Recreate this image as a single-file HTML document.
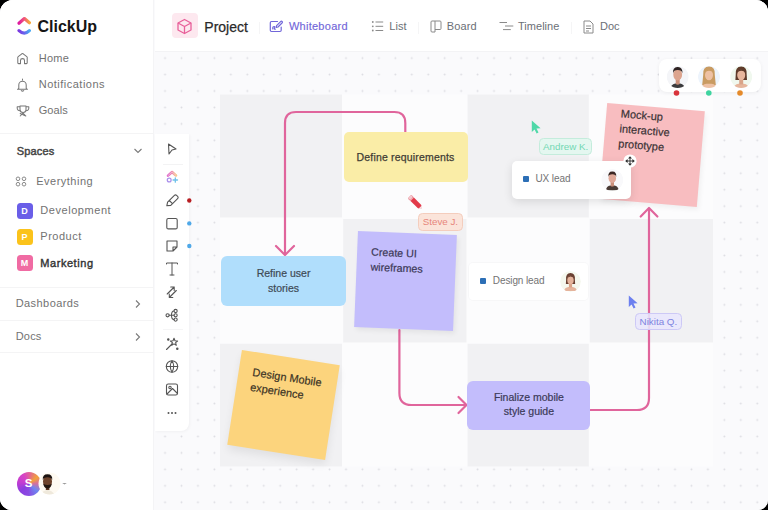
<!DOCTYPE html>
<html><head><meta charset="utf-8">
<style>
*{margin:0;padding:0;box-sizing:border-box}
html,body{width:768px;height:510px;overflow:hidden;background:#000}
body{font-family:"Liberation Sans",sans-serif;position:relative}
#app{position:absolute;left:0;top:0;width:768px;height:510px;border-radius:13px 12px 10px 12px;overflow:hidden;background:#fff}
.a{position:absolute}
.t{position:absolute;white-space:nowrap;line-height:1}
.sb{color:#727272;font-size:11px}
.sep{position:absolute;left:0;width:154px;height:1px;background:#f4f4f5}
.hd{color:#6b6f76;font-size:11px}
.note{position:absolute;color:#3e3e44;font-size:10.5px;line-height:14.5px;text-align:center;-webkit-text-stroke:0.2px}
.stk{position:absolute;color:#3c3a4a;font-size:11px;line-height:15px;-webkit-text-stroke:0.2px}
</style></head><body>
<div id="app">
  <!-- canvas background -->
  <svg class="a" style="left:0;top:0" width="768" height="510">
    <defs>
      <pattern id="dots" patternUnits="userSpaceOnUse" x="156.825" y="49.875" width="16.45" height="16.45">
        <circle cx="8.225" cy="8.225" r="0.95" fill="#dcdce2"/>
      </pattern>
    </defs>
    <rect x="0" y="0" width="768" height="510" fill="#fafafc"/>
    <rect x="0" y="0" width="768" height="510" fill="url(#dots)"/>
    <!-- grid cells -->
    <g>
      <rect x="220" y="94.5" width="493" height="372" fill="#fcfcfd"/>
      <rect x="220" y="94.5" width="122" height="123.0" fill="#f1f1f3"/>
      <rect x="467.6" y="94.5" width="121.2" height="123.0" fill="#f1f1f3"/>
      <rect x="343.2" y="219" width="123.3" height="123.5" fill="#f1f1f3"/>
      <rect x="589.8" y="219" width="123.2" height="123.5" fill="#f1f1f3"/>
      <rect x="220" y="343.8" width="122" height="122.7" fill="#f1f1f3"/>
      <rect x="467.6" y="343.8" width="121.2" height="122.7" fill="#f1f1f3"/>
    </g>
  </svg>

  <!-- sidebar -->
  <div class="a" style="left:0;top:0;width:154px;height:510px;background:#fff;border-right:1px solid #f4f4f6"></div>
  <!-- logo -->
  <svg class="a" style="left:16px;top:16px" width="16" height="20" viewBox="0 0 16 20">
    <defs>
      <linearGradient id="lg1" x1="0" y1="0" x2="1" y2="0"><stop offset="0" stop-color="#de1aa0"/><stop offset="0.5" stop-color="#f0577a"/><stop offset="1" stop-color="#f6a93a"/></linearGradient>
      <linearGradient id="lg2" x1="0" y1="0" x2="1" y2="0"><stop offset="0" stop-color="#7a3ae0"/><stop offset="0.5" stop-color="#6a62ec"/><stop offset="1" stop-color="#4aaaf2"/></linearGradient>
    </defs>
    <path d="M3 7.2 L8.4 2.6 L13.4 6.8" fill="none" stroke="url(#lg1)" stroke-width="3.3" stroke-linecap="round" stroke-linejoin="round"/>
    <path d="M3 14.6 Q8.3 19.6 13.4 14.6" fill="none" stroke="url(#lg2)" stroke-width="3.2" stroke-linecap="round"/>
  </svg>
  <div class="t" style="left:37.5px;top:19px;font-size:16px;font-weight:700;color:#151515">ClickUp</div>

  <!-- home icon -->
  <svg class="a" style="left:16px;top:52px" width="13" height="13" viewBox="0 0 13 13"><path d="M1.8 6 Q1.5 5.3 2.2 4.7 L5.8 1.8 Q6.5 1.3 7.2 1.8 L10.8 4.7 Q11.5 5.3 11.2 6 L11.2 10.8 Q11.2 11.6 10.4 11.6 H8.5 V8.4 Q8.5 6.6 6.5 6.6 Q4.5 6.6 4.5 8.4 V11.6 H2.6 Q1.8 11.6 1.8 10.8 Z" fill="none" stroke="#777" stroke-width="1.05" stroke-linejoin="round"/></svg>
  <div class="t sb" style="left:38.7px;top:52.5px;letter-spacing:0.3px">Home</div>
  <!-- bell -->
  <svg class="a" style="left:16px;top:77.5px" width="13" height="14" viewBox="0 0 13 14"><path d="M6.5 1 V2 M2.8 10.3 V7 A3.7 3.7 0 0 1 10.2 7 V10.3 L11.5 11.3 H1.5 Z M5.3 12.6 Q6.5 13.6 7.7 12.6" fill="none" stroke="#777" stroke-width="1.05" stroke-linejoin="round" stroke-linecap="round"/></svg>
  <div class="t sb" style="left:38.7px;top:79.1px;letter-spacing:0.5px">Notifications</div>
  <!-- trophy -->
  <svg class="a" style="left:15.5px;top:104.5px" width="14" height="12" viewBox="0 0 14 12"><path d="M4 1 H10 V4.5 A3 3 0 0 1 4 4.5 Z M4 1.8 H1.2 V3 A2.5 2.5 0 0 0 4.2 5.6 M10 1.8 H12.8 V3 A2.5 2.5 0 0 1 9.8 5.6 M7 7.5 V8.2 M4.2 11 L7 8.2 L9.8 11 M4.2 8.5 L9.8 11" fill="none" stroke="#777" stroke-width="1.05" stroke-linejoin="round" stroke-linecap="round"/></svg>
  <div class="t sb" style="left:38.7px;top:105.4px;letter-spacing:0.1px">Goals</div>
  <div class="sep" style="top:133px"></div>

  <div class="t" style="left:16.8px;top:145.7px;font-size:11px;color:#444;letter-spacing:0.15px;-webkit-text-stroke:0.45px">Spaces</div>
  <svg class="a" style="left:133px;top:147px" width="10" height="8" viewBox="0 0 10 8"><path d="M1.5 2 L5 5.5 L8.5 2" fill="none" stroke="#7a7a7a" stroke-width="1.1"/></svg>

  <svg class="a" style="left:15px;top:176px" width="12" height="11" viewBox="0 0 12 11"><g fill="none" stroke="#8a8a8a" stroke-width="1"><circle cx="3" cy="2.8" r="1.8"/><circle cx="9" cy="2.8" r="1.8"/><circle cx="3" cy="8.2" r="1.8"/><circle cx="9" cy="8.2" r="1.8"/></g></svg>
  <div class="t sb" style="left:36.2px;top:175.7px;letter-spacing:0.5px">Everything</div>

  <div class="a" style="left:16.5px;top:202.5px;width:16px;height:16px;border-radius:3.5px;background:#6a5ee8;color:#fff;font-size:9px;font-weight:700;text-align:center;line-height:16px">D</div>
  <div class="t sb" style="left:40.3px;top:204.5px;letter-spacing:0.55px">Development</div>
  <div class="a" style="left:16.5px;top:228.7px;width:16px;height:16px;border-radius:3.5px;background:#fbc31b;color:#fff;font-size:9px;font-weight:700;text-align:center;line-height:16px">P</div>
  <div class="t sb" style="left:40.3px;top:230.7px;letter-spacing:0.5px">Product</div>
  <div class="a" style="left:16.5px;top:255px;width:16px;height:16px;border-radius:3.5px;background:#f06ba3;color:#fff;font-size:9px;font-weight:700;text-align:center;line-height:16px">M</div>
  <div class="t" style="left:40.3px;top:258px;font-size:11px;color:#333;letter-spacing:0.55px;-webkit-text-stroke:0.4px">Marketing</div>

  <div class="sep" style="top:287px"></div>
  <div class="t sb" style="left:15.7px;top:298px;letter-spacing:0.43px">Dashboards</div>
  <svg class="a" style="left:133px;top:299px" width="9" height="10" viewBox="0 0 9 10"><path d="M3 1.5 L6.5 5 L3 8.5" fill="none" stroke="#7a7a7a" stroke-width="1.1"/></svg>
  <div class="sep" style="top:320px"></div>
  <div class="t sb" style="left:15.7px;top:330.9px;letter-spacing:0.2px">Docs</div>
  <svg class="a" style="left:133px;top:332px" width="9" height="10" viewBox="0 0 9 10"><path d="M3 1.5 L6.5 5 L3 8.5" fill="none" stroke="#7a7a7a" stroke-width="1.1"/></svg>
  <div class="sep" style="top:352px"></div>

  <!-- bottom avatars -->
  <div class="a" style="left:16.5px;top:471.5px;width:24px;height:24px;border-radius:50%;background:conic-gradient(from 0deg,#e0609a 0deg,#f2a23a 50deg,#d8709a 85deg,#6f86f0 130deg,#8a4ae2 185deg,#8a3ee0 230deg,#c23cd2 280deg,#d844c4 330deg,#e0609a 360deg)"></div>
  <div class="t" style="left:16.5px;top:477.5px;width:24px;text-align:center;font-size:11.5px;font-weight:700;color:#fff">S</div>
  <svg class="a" style="left:36px;top:470px" width="36" height="28" viewBox="0 0 36 28">
    <defs><clipPath id="cp0"><circle cx="13.5" cy="13.5" r="11"/></clipPath></defs>
    <circle cx="13.5" cy="13.5" r="11" fill="#fefaf2"/>
    <g clip-path="url(#cp0)">
      <path d="M3.5 28 Q5 20.5 11.5 20 Q18 20.5 19.5 28 Z" fill="#efe9dc"/>
      <rect x="9.8" y="15" width="3.6" height="5" fill="#5a3522"/>
      <ellipse cx="11.5" cy="11.5" rx="4.5" ry="5.8" fill="#6e432c"/>
      <path d="M6.8 10 Q6.2 4.2 11.5 4.2 Q16.8 4.2 16.2 10 Q15.5 7.5 11.5 7.3 Q7.5 7.5 6.8 10Z" fill="#1a1210"/>
      <path d="M7 12 Q7.5 18.5 11.5 18.5 Q15.5 18.5 16 12 L15.5 14 Q11.5 16 7.5 14 Z" fill="#22160f"/>
    </g>
    <path d="M26.2 13 L28.5 14.6 L30.8 13 Z" fill="#9a9a9a"/>
  </svg>

  <!-- header -->
  <div class="a" style="left:155px;top:0;width:613px;height:52px;background:#fff;border-bottom:1px solid #f3f3f5"></div>
  <div class="a" style="left:171.7px;top:13.3px;width:26px;height:25px;border-radius:4px;background:#fde8ef"></div>
  <svg class="a" style="left:176px;top:18px" width="17" height="17" viewBox="0 0 17 17"><g fill="none" stroke="#e8609a" stroke-width="1.3" stroke-linejoin="round"><path d="M8.5 1.5 L15 5 V12 L8.5 15.5 L2 12 V5 Z"/><path d="M2 5 L8.5 8.5 L15 5 M8.5 8.5 V15.5"/></g></svg>
  <div class="t" style="left:204.3px;top:19.8px;font-size:14px;color:#2a2a2a;-webkit-text-stroke:0.25px">Project</div>
  <div class="a" style="left:259px;top:22px;width:1px;height:12px;background:#f5f5f6"></div>
  <svg class="a" style="left:269px;top:19.5px" width="15" height="13" viewBox="0 0 15 13"><g fill="none" stroke="#7166d9" stroke-width="1.2" stroke-linejoin="round" stroke-linecap="round"><path d="M8.5 1.5 H2.5 Q1.3 1.5 1.3 2.7 V10.3 Q1.3 11.5 2.5 11.5 H11 Q12.2 11.5 12.2 10.3 V7"/><path d="M13.2 1.6 Q12.4 0.8 11.6 1.6 L7.6 5.6 L7.2 7.4 L9 7 L13 3 Q13.8 2.2 13.2 1.6 Z"/><path d="M3.8 9 Q3.5 6.5 5.2 6.5 Q6.3 6.7 5.5 8 Q4.8 9.3 6.3 9.2"/></g></svg>
  <div class="t hd" style="left:288.9px;top:21.2px;color:#7166d9;letter-spacing:0.27px;-webkit-text-stroke:0.15px">Whiteboard</div>
  <svg class="a" style="left:371px;top:20px" width="13" height="12" viewBox="0 0 13 12"><g fill="#8a8a8a"><circle cx="1.8" cy="2" r="0.9"/><circle cx="1.8" cy="6.3" r="0.9"/><circle cx="1.8" cy="10.5" r="0.9"/></g><g fill="none" stroke="#8a8a8a" stroke-width="1"><path d="M4.5 2 H12.2 M4.5 6.3 H12.2 M4.5 10.5 H12.2"/></g></svg>
  <div class="t hd" style="left:389.2px;top:21.2px;letter-spacing:0.1px">List</div>
  <div class="a" style="left:418px;top:22px;width:1px;height:12px;background:#f5f5f6"></div>
  <svg class="a" style="left:429.5px;top:20px" width="12" height="13" viewBox="0 0 12 13"><g fill="none" stroke="#8a8a8a" stroke-width="1" stroke-linejoin="round"><path d="M1 2 Q1 1 2 1 H5 V12 H2 Q1 12 1 11 Z"/><path d="M5 1 H10 Q11 1 11 2 V8.5 Q11 9.5 10 9.5 H5"/></g></svg>
  <div class="t hd" style="left:446.8px;top:21.2px;letter-spacing:0.1px">Board</div>
  <svg class="a" style="left:499px;top:20px" width="15" height="12" viewBox="0 0 15 12"><g fill="none" stroke="#8a8a8a" stroke-width="1"><path d="M0.5 2.5 H8 M6 6 H14.3 M4 9.6 H11.8"/></g></svg>
  <div class="t hd" style="left:517.9px;top:21.2px;letter-spacing:0.05px">Timeline</div>
  <div class="a" style="left:570.5px;top:22px;width:1px;height:12px;background:#f5f5f6"></div>
  <svg class="a" style="left:582.5px;top:19.5px" width="11" height="14" viewBox="0 0 11 14"><g fill="none" stroke="#8a8a8a" stroke-width="1" stroke-linejoin="round"><path d="M1 1 H7 L10 4 V13 H1 Z"/><path d="M3 6 H8 M3 8.5 H8 M3 11 H6"/></g></svg>
  <div class="t hd" style="left:599.9px;top:21.2px;letter-spacing:0.05px">Doc</div>

  <!-- toolbar -->
  <div class="a" style="left:155px;top:133.5px;width:33.5px;height:297.5px;background:#fff;border-radius:0 0 8px 0;box-shadow:1px 1px 3px rgba(0,0,0,0.04)"></div>
  <svg class="a" style="left:155px;top:133px" width="45" height="300" viewBox="0 0 45 300">
    <g fill="none" stroke="#555" stroke-width="1.1" stroke-linejoin="round" stroke-linecap="round">
      <!-- cursor -->
      <path d="M13.5 11 L21 16 L17 17 L14 21 Z"/>
      <!-- pencil -->
      <path d="M11.8 72.8 L12.6 69.2 L19.4 62.4 Q20.5 61.3 21.6 62.4 L22.6 63.4 Q23.7 64.5 22.6 65.6 L15.8 72.4 Z M14.3 67.5 L17.5 70.7"/>
      <!-- square -->
      <rect x="11.8" y="85.5" width="10.4" height="10.4" rx="1.5"/>
      <!-- sticky -->
      <path d="M12 108 H22 V114 L18 118 H12 Z M18 118 V114 H22"/>
      <!-- T -->
      <path d="M11.5 131 V130 H22.5 V131 M17 130 V142 M15 142 H19" stroke-width="1"/>
      <!-- arrows -->
      <path d="M12.2 161 L19.2 154 M19.2 154 H15.7 M19.2 154 V157.5 M21.3 157.5 L14.3 164.5 M14.3 164.5 H17.8 M14.3 164.5 V161"/>
      <!-- connections -->
      <circle cx="12.6" cy="182.3" r="1.6"/><circle cx="20.6" cy="178" r="1.6"/><circle cx="20.6" cy="182.3" r="1.6"/><circle cx="20.6" cy="186.6" r="1.6"/>
      <path d="M14.2 182.3 H19 M16.5 182.3 Q16.5 178 19 178 M16.5 182.3 Q16.5 186.6 19 186.6"/>
      <!-- magic -->
      <path d="M11.5 216.5 L17 211"/>
      <path d="M19 205.3 L20 207.8 L22.6 208 L20.6 209.7 L21.3 212.3 L19 210.9 L16.7 212.3 L17.4 209.7 L15.4 208 L18 207.8 Z"/>
      <circle cx="13.3" cy="206.5" r="0.7" fill="#555"/><circle cx="22.3" cy="215.7" r="0.7" fill="#555"/>
      <!-- globe -->
      <circle cx="17" cy="233.5" r="5.7"/>
      <path d="M11.3 233.5 H22.7 M17 227.8 Q13.5 233.5 17 239.2 M17 227.8 Q20.5 233.5 17 239.2"/>
      <!-- image -->
      <rect x="11.5" y="251" width="11" height="11" rx="1.8"/>
      <circle cx="15" cy="254.5" r="1.2"/>
      <path d="M12 261 L17.5 255.5 L22.5 260.5"/>
    </g>
    <line x1="8" y1="31.5" x2="28" y2="31.5" stroke="#f3f3f4" stroke-width="1"/>
    <line x1="8" y1="196.5" x2="28" y2="196.5" stroke="#f5f5f6" stroke-width="1"/>
    <!-- clickup AI icon -->
    <defs><linearGradient id="aig" x1="0" y1="0" x2="1" y2="0"><stop offset="0" stop-color="#d94fc0"/><stop offset="0.55" stop-color="#ec7a9a"/><stop offset="1" stop-color="#f5b870"/></linearGradient></defs>
    <path d="M13 42.6 L16.8 39.2 Q17 39 17.3 39.2 L21 42.4" fill="none" stroke="url(#aig)" stroke-width="2.6" stroke-linecap="round" stroke-linejoin="round" opacity="0.85"/>
    <path d="M13 42.6 L16.8 39.2 Q17 39 17.3 39.2 L21 42.4" fill="none" stroke="#fff" stroke-width="0.7" stroke-linecap="round" stroke-linejoin="round" opacity="0.6"/>
    <circle cx="14.2" cy="47" r="1.9" fill="none" stroke="#9b7ce8" stroke-width="1.3" opacity="0.85"/>
    <path d="M20.3 44.8 V49.2 M18.1 47 H22.5" stroke="#54b6e6" stroke-width="1.3" stroke-linecap="round" opacity="0.85"/>
    <!-- dots -->
    <circle cx="13.5" cy="280" r="1" fill="#555"/><circle cx="17" cy="280" r="1" fill="#555"/><circle cx="20.5" cy="280" r="1" fill="#555"/>
    <!-- color dots -->
    <circle cx="34.3" cy="67.5" r="2.2" fill="#b81e22"/>
    <circle cx="34.3" cy="90.4" r="2.2" fill="#4fa8e8"/>
    <circle cx="34.3" cy="113" r="2.2" fill="#4fa8e8"/>
  </svg>

  <!-- connectors -->
  <svg class="a" style="left:0;top:0" width="768" height="510">
    <g fill="none" stroke="#e0659c" stroke-width="2.2" stroke-linecap="round" stroke-linejoin="round">
      <path d="M405.3 132 V123 Q405.3 112 394.3 112 H296 Q285 112 285 123 V254"/>
      <path d="M276 246 L285 255 L294 246"/>
      <path d="M399.4 330 V393 Q399.4 405 411.4 405 H466"/>
      <path d="M458.5 397 L466.5 405 L458.5 413"/>
      <path d="M590.5 410 H637 Q649 410 649 398 V209"/>
      <path d="M640.7 216.5 L649 208 L657.4 216.5"/>
    </g>
  </svg>

  <!-- notes -->
  <div class="a" style="left:343.7px;top:131.8px;width:124.3px;height:50.2px;border-radius:5px;background:#faeda7"></div>
  <div class="t" style="left:356.5px;top:151.8px;font-size:10.5px;color:#3f3c35;letter-spacing:0.18px;-webkit-text-stroke:0.25px">Define requirements</div>

  <div class="a" style="left:221.3px;top:256.4px;width:124.5px;height:49.2px;border-radius:6px;background:#b0defc"></div>
  <div class="note" style="left:221.3px;top:266px;width:124.5px;color:#3e4a55">Refine user<br>stories</div>

  <div class="a" style="left:467.3px;top:380.8px;width:123.2px;height:49.2px;border-radius:6px;background:#c3bdfc"></div>
  <div class="note" style="left:467.3px;top:389.5px;width:123.2px;color:#3b3a58">Finalize mobile<br>style guide</div>

  <!-- purple sticky -->
  <div class="a" style="left:356px;top:232.7px;width:99px;height:96px;background:#c3bdfc;transform:rotate(2.3deg);box-shadow:2px 3px 5px rgba(0,0,0,0.06)">
    <div class="stk" style="left:14px;top:12.5px;color:#3b3856;font-size:10.7px">Create UI<br>wireframes</div>
  </div>

  <!-- yellow sticky -->
  <div class="a" style="left:234.4px;top:357.3px;width:99px;height:96px;background:#fcd47d;transform:rotate(8.8deg);box-shadow:1px 5px 9px rgba(0,0,0,0.07)">
    <div class="stk" style="left:14px;top:12.6px;color:#3d3526">Design Mobile<br>experience</div>
  </div>

  <!-- pink sticky -->
  <div class="a" style="left:602.8px;top:107.3px;width:98px;height:96px;background:#f8bdc0;transform:rotate(4.8deg);box-shadow:2px 3px 5px rgba(0,0,0,0.05)">
    <div class="stk" style="left:14.5px;top:1.8px;color:#3a3235">Mock-up<br>interactive<br>prototype</div>
  </div>

  <!-- design lead card -->
  <div class="a" style="left:469px;top:262.5px;width:118.6px;height:37px;background:#fff;border-radius:4px;box-shadow:0 0 0 1px rgba(0,0,0,0.02)"></div>
  <div class="a" style="left:480px;top:277.6px;width:6.4px;height:6.4px;background:#2c6fb6;border-radius:1px"></div>
  <div class="t" style="left:492.8px;top:275.8px;font-size:10px;color:#737373;letter-spacing:-0.1px">Design lead</div>

  <!-- UX lead card -->
  <div class="a" style="left:512.1px;top:161px;width:119.2px;height:37.5px;background:#fff;border-radius:5px;box-shadow:0 3px 10px rgba(0,0,0,0.11)"></div>
  <div class="a" style="left:523px;top:175.9px;width:6.4px;height:6.4px;background:#2c6fb6;border-radius:1px"></div>
  <div class="t" style="left:535.5px;top:174.3px;font-size:10px;color:#737373;letter-spacing:-0.1px">UX lead</div>

  <!-- labels -->
  <div class="a" style="left:418px;top:213px;width:44.8px;height:17.8px;border-radius:4.5px;background:#fbe4da;border:1px solid #f4cdbd;color:#e7867c;font-size:9.8px;line-height:15.6px;text-align:center">Steve J.</div>
  <div class="a" style="left:539.1px;top:137.6px;width:53.2px;height:17.2px;border-radius:4.5px;background:#e4f7f0;border:1px solid #c4ecdc;color:#72d8b3;font-size:9.8px;line-height:15.2px;text-align:center">Andrew K.</div>
  <div class="a" style="left:635px;top:313.2px;width:46.8px;height:17px;border-radius:4.5px;background:rgba(232,230,253,0.88);border:1px solid #cdc9f6;color:#7d83e0;font-size:9.8px;line-height:15px;text-align:center">Nikita Q.</div>

  <!-- cursors -->
  <svg class="a" style="left:531px;top:119.5px" width="12" height="15" viewBox="0 0 12 15"><path d="M0.8 0.5 L0.8 12 L3.6 9.4 L5.6 13.4 L7.5 12.5 L5.5 8.6 L9.6 8.3 Z" fill="#4fd8a8"/></svg>
  <svg class="a" style="left:627.5px;top:295px" width="12" height="15" viewBox="0 0 12 15"><path d="M0.8 0.5 L0.8 12 L3.6 9.4 L5.6 13.4 L7.5 12.5 L5.5 8.6 L9.6 8.3 Z" fill="#6d80ef"/></svg>
  <svg class="a" style="left:406px;top:193px" width="18" height="18" viewBox="0 0 18 18"><g transform="translate(3.6 3.6) rotate(45)"><rect x="0" y="-2.4" width="15" height="4.8" rx="1.2" fill="#e23a4a"/><rect x="0" y="-2.4" width="2.8" height="4.8" rx="1.2" fill="#f3c9cf"/><path d="M15 -2.4 L17.5 0 L15 2.4 Z" fill="#f6d9dc"/><rect x="2.8" y="-2.4" width="1" height="4.8" fill="#fff" opacity="0.6"/></g></svg>
  <!-- move icon -->
  <svg class="a" style="left:622.2px;top:152.8px" width="16" height="16" viewBox="0 0 16 16"><circle cx="8" cy="8" r="6.6" fill="#fff"/><g fill="#2a2a2a"><path d="M8 3.2 L10 5.6 H6Z M8 12.8 L10 10.4 H6Z M3.2 8 L5.6 6 V10Z M12.8 8 L10.4 6 V10Z"/><rect x="7.55" y="5" width="0.9" height="6"/><rect x="5" y="7.55" width="6" height="0.9"/></g></svg>

  <!-- avatars panel -->
  <div class="a" style="left:658.5px;top:58.5px;width:102px;height:33.5px;background:#fff;border-radius:8px;box-shadow:0 1px 4px rgba(0,0,0,0.06)"></div>

  <svg class="a" style="left:0;top:0" width="768" height="510">
    <defs>
      <filter id="bl" x="-50%" y="-50%" width="200%" height="200%"><feGaussianBlur stdDeviation="0.35"/></filter>
      <clipPath id="c1"><circle cx="677.7" cy="76.9" r="11"/></clipPath>
      <clipPath id="c2"><circle cx="709" cy="76.9" r="11"/></clipPath>
      <clipPath id="c3"><circle cx="741.2" cy="76.9" r="11"/></clipPath>
      <clipPath id="c4"><circle cx="612.3" cy="180" r="11"/></clipPath>
      <clipPath id="c5"><circle cx="570.5" cy="281.5" r="10.5"/></clipPath>
    </defs>
    <g clip-path="url(#c1)"><circle cx="677.7" cy="76.9" r="11" fill="#f4f5f8"/><g transform="translate(677.7 76.9) scale(1.0)" filter="url(#bl)">
  <path d="M-7.5 12 Q-7 7.5 -2.5 6.5 L2.5 6.5 Q7 7.5 7.5 12 Z" fill="#3b3b3d"/>
  <path d="M-2 2 H2 V7 Q0 8.5 -2 7 Z" fill="#c98f7a"/>
  <ellipse cx="0" cy="-2.2" rx="4.4" ry="5.8" fill="#dca48e"/>
  <path d="M-4.6 -3.5 Q-5.2 -10.2 0 -10 Q5.2 -10.2 4.6 -3.5 Q4.2 -6.8 0 -6.8 Q-4.2 -6.8 -4.6 -3.5 Z" fill="#2e2420"/>
</g></g><g clip-path="url(#c2)"><circle cx="709" cy="76.9" r="11" fill="#edf4fc"/><g transform="translate(709 76.9) scale(1.0)" filter="url(#bl)">
  <path d="M-5.8 -2 Q-6.5 -10.5 0 -10.5 Q6.5 -10.5 5.8 -2 L6.8 8 Q0 9.5 -6.8 8 Z" fill="#c99b62"/>
  <path d="M-8 12 Q-7.5 7.5 -2.5 6.8 L2.5 6.8 Q7.5 7.5 8 12 Z" fill="#eec1a4"/>
  <ellipse cx="0" cy="-2" rx="4" ry="5.4" fill="#eec1a4"/>
  <path d="M-4.2 -3 Q-3.5 -8 1 -8 Q4.8 -7.5 4.3 -3 Q3.5 -6.2 0 -6.2 Q-3.2 -6.2 -4.2 -3Z" fill="#c99b62"/>
</g></g><g clip-path="url(#c3)"><circle cx="741.2" cy="76.9" r="11" fill="#f0f8ee"/><g transform="translate(741.2 76.9) scale(1.0)" filter="url(#bl)">
  <path d="M-5.5 -2 Q-6.2 -10.5 0 -10.5 Q6.2 -10.5 5.5 -2 L5.8 3 L-5.8 3 Z" fill="#5e3b2b"/>
  <path d="M-8 12 Q-7.5 7.5 -2.5 6.8 L2.5 6.8 Q7.5 7.5 8 12 Z" fill="#e6b69c"/><path d="M-2 1 H2 V7.5 H-2 Z" fill="#d9a488"/>
  <ellipse cx="0" cy="-2" rx="4" ry="5.4" fill="#e6b69c"/>
  <path d="M-4.2 -3 Q-3.5 -8 1 -8 Q4.8 -7.5 4.3 -3 Q3.5 -6.2 0 -6.2 Q-3.2 -6.2 -4.2 -3Z" fill="#5e3b2b"/>
</g></g><g clip-path="url(#c4)"><circle cx="612.3" cy="180" r="11" fill="#f9f9fb"/><g transform="translate(612.3 180) scale(0.85)" filter="url(#bl)">
  <path d="M-7.5 12 Q-7 7.5 -2.5 6.5 L2.5 6.5 Q7 7.5 7.5 12 Z" fill="#4a3a36"/>
  <path d="M-2 2 H2 V7 Q0 8.5 -2 7 Z" fill="#c98f7a"/>
  <ellipse cx="0" cy="-2.2" rx="4.4" ry="5.8" fill="#e0a898"/>
  <path d="M-4.6 -3.5 Q-5.2 -10.2 0 -10 Q5.2 -10.2 4.6 -3.5 Q4.2 -6.8 0 -6.8 Q-4.2 -6.8 -4.6 -3.5 Z" fill="#3a2622"/>
</g></g><g clip-path="url(#c5)"><circle cx="570.5" cy="281.5" r="10.5" fill="#f5f8ee"/><g transform="translate(570.5 281.5) scale(0.8)" filter="url(#bl)">
  <path d="M-5.5 -2 Q-6.2 -10.5 0 -10.5 Q6.2 -10.5 5.5 -2 L5.8 3 L-5.8 3 Z" fill="#6a4030"/>
  <path d="M-8 12 Q-7.5 7.5 -2.5 6.8 L2.5 6.8 Q7.5 7.5 8 12 Z" fill="#e5b49c"/><path d="M-2 1 H2 V7.5 H-2 Z" fill="#d9a488"/>
  <ellipse cx="0" cy="-2" rx="4" ry="5.4" fill="#e5b49c"/>
  <path d="M-4.2 -3 Q-3.5 -8 1 -8 Q4.8 -7.5 4.3 -3 Q3.5 -6.2 0 -6.2 Q-3.2 -6.2 -4.2 -3Z" fill="#6a4030"/>
</g></g>
    <circle cx="676.5" cy="93" r="2.8" fill="#d9343c"/>
    <circle cx="708.8" cy="93" r="2.8" fill="#3fd4a0"/>
    <circle cx="740" cy="93" r="2.8" fill="#e58a2a"/>
  </svg>

</div>
</body></html>
